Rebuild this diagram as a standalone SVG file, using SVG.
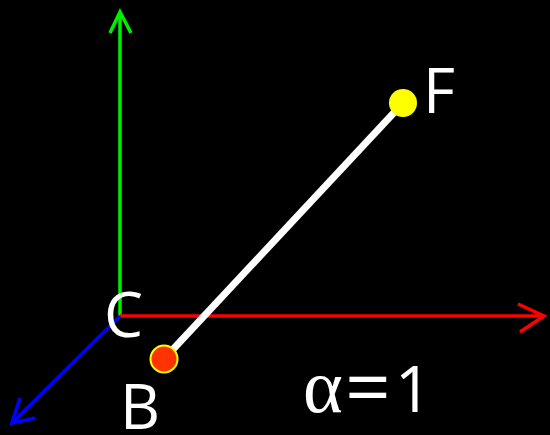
<svg xmlns="http://www.w3.org/2000/svg" width="550" height="435" viewBox="0 0 550 435">
<style>
.ax{fill:none;stroke-width:3.5;stroke-linecap:butt;stroke-linejoin:miter}
.lbl{font-family:"Open Sans","DejaVu Sans",sans-serif;font-size:62px;fill:#fff}
</style>
<rect width="550" height="435" fill="#000"/>
<g id="connectors">
<g id="axis-y"><line class="ax" stroke="#00ee00" x1="120" y1="316" x2="120" y2="12"/><polyline class="ax" stroke="#00ee00" points="110,33 120,12 131,33"/></g>
<g id="axis-x"><line class="ax" stroke="#ff0000" x1="120" y1="316" x2="544" y2="316"/><polyline class="ax" stroke="#ff0000" points="518,304 544,316 520,332"/></g>
<g id="axis-z"><line class="ax" stroke="#0000ff" x1="120" y1="316" x2="12" y2="423"/><polyline class="ax" stroke="#0000ff" points="20,398 12,423 35,418"/></g>
<line id="segment-BF" x1="164" y1="359" x2="403" y2="103" stroke="#fff" stroke-width="7"/>
</g>
<g id="node-C"><text class="lbl" x="104" y="337">C</text></g>
<g id="node-B"><circle cx="164" cy="359" r="13.5" fill="#ff3300" stroke="#ffff00" stroke-width="2"/><text class="lbl" x="120" y="429">B</text></g>
<g id="node-F"><circle cx="403" cy="103" r="14" fill="#ffff00"/><text class="lbl" x="423" y="113">F</text></g>
<g id="label-alpha"><text class="lbl" y="412"><tspan x="303" font-family="'Liberation Serif',serif" font-size="76">α</tspan><tspan x="345" y="416" font-size="80">=</tspan><tspan x="395" y="412" font-size="64">1</tspan></text></g>
</svg>
